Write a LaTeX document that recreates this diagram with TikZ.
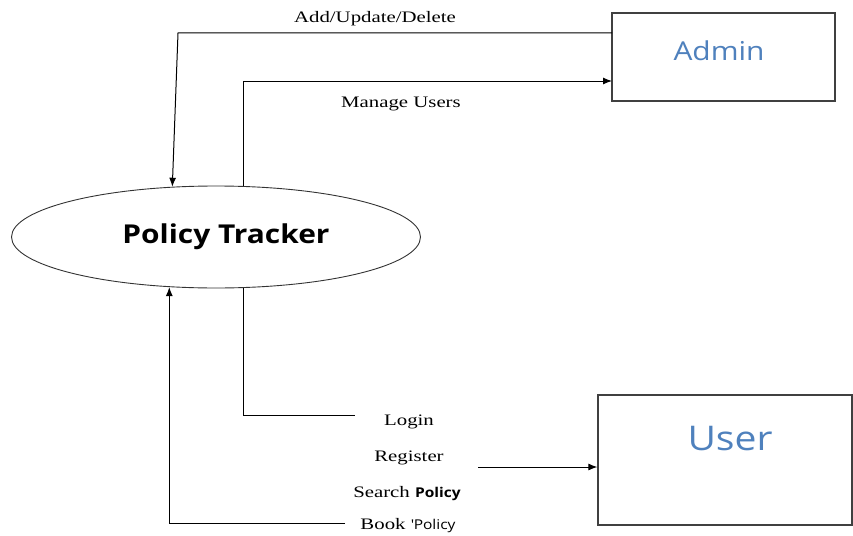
\documentclass[tikz,border=0pt]{standalone}
\usepackage{fontspec}
\setmainfont[FakeStretch=1.3]{Liberation Serif}
\newfontfamily\uisans[FakeStretch=1.15]{Open Sans}
\usepackage{xcolor}
\usetikzlibrary{positioning,arrows.meta,calc,shapes.geometric}

\definecolor{entityblue}{HTML}{4F81BD}

\begin{document}
\begin{tikzpicture}[
  x=1pt, y=-1pt, >={Latex[length=9pt,width=7pt]},
  flow/.style={draw, line width=1pt},
  flowlabel/.style={font=\fontsize{16}{18}\selectfont, inner sep=0pt, yshift=-2.5pt},
  entity/.style={draw=black!75, line width=1.3pt, fill=white, inner sep=0pt},
  entitytext/.style={text=entityblue, inner sep=0pt},
  process/.style={draw=black!80, ellipse, line width=0.9pt, minimum width=409, minimum height=102, inner sep=0pt,
    font=\uisans\bfseries\fontsize{26}{29}\selectfont},
]
\useasboundingbox (0,0) rectangle (853,535);

% ---------- nodes ----------
\node[process] (tracker) at (216,237) {\hspace{20pt}Policy Tracker};
\node[entity, minimum width=223, minimum height=88] (admin) at (723.5,57) {};
\node[entitytext, font=\uisans\fontsize{26}{29}\selectfont] (admintext) at (719,51) {Admin};
\node[entity, minimum width=254, minimum height=130] (user) at (725,460) {};
\node[entitytext, font=\uisans\fontsize{34}{38}\selectfont, anchor=north]
  (usertext) at ($(user.north)+(5,32)$) {User};

% ---------- admin side ----------
\coordinate (addin)  at (612,33);
\coordinate (addtop) at (178,33);
\coordinate (mgmt)   at (612,81);
\draw[flow,->] (addin) -- (addtop) -- (tracker.131);
\draw[flow,->] (tracker.62) |- (mgmt);
\node[flowlabel] (addlbl) at (375,16) {Add/Update/Delete};
\node[flowlabel] (mgmtlbl) at (401,101) {Manage Users};

% ---------- user side ----------
\coordinate (loginend) at (355,415);
\coordinate (bookend)  at (345,523);
\coordinate (regout)   at (478,467);
\draw[flow] (tracker.-62) |- (loginend);
\draw[flow,->] (bookend) -| (tracker.-133);
\draw[flow,->] (regout) -- (regout -| user.west);
\node[flowlabel] (login) at (409,419) {Login};
\node[flowlabel] (register) at (409,455) {Register};
\node[flowlabel] (search) at (407,491) {Search {\uisans\bfseries\fontsize{13.5}{15}\selectfont Policy}};
\node[flowlabel] (book) at (408,523) {Book {\uisans\fontsize{13.5}{15}\selectfont\textquotesingle Policy}};
\end{tikzpicture}
\end{document}
